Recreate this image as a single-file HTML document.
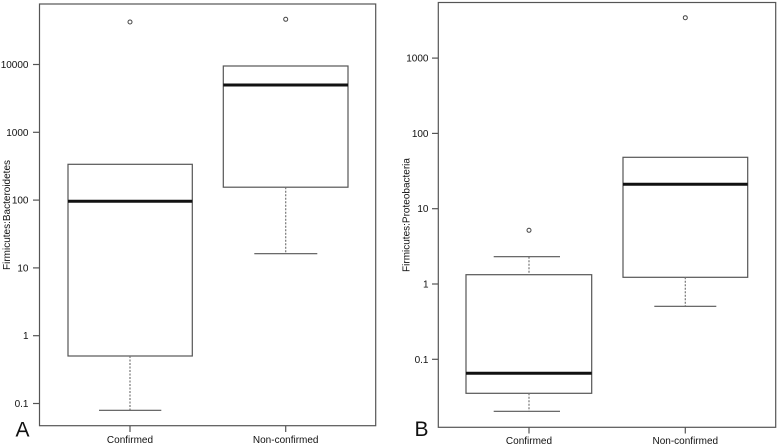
<!DOCTYPE html>
<html>
<head>
<meta charset="utf-8">
<style>
html,body{margin:0;padding:0;background:#fff;}
svg{display:block;}
text{font-family:"Liberation Sans",Arial,sans-serif;fill:#111;}
</style>
</head>
<body>
<svg width="778" height="447" viewBox="0 0 778 447" xmlns="http://www.w3.org/2000/svg">
<rect width="778" height="447" fill="#fff"/>

<!-- ===== Panel A ===== -->
<g fill="none" stroke="#555" stroke-width="1.2">
  <rect x="39.5" y="4" width="336.2" height="421.7"/>
  <!-- y ticks -->
  <line x1="33" y1="64.5" x2="39.5" y2="64.5"/>
  <line x1="33" y1="132.3" x2="39.5" y2="132.3"/>
  <line x1="33" y1="200.1" x2="39.5" y2="200.1"/>
  <line x1="33" y1="267.9" x2="39.5" y2="267.9"/>
  <line x1="33" y1="335.7" x2="39.5" y2="335.7"/>
  <line x1="33" y1="403.5" x2="39.5" y2="403.5"/>
  <!-- x ticks -->
  <line x1="130" y1="425.7" x2="130" y2="432"/>
  <line x1="285.7" y1="425.7" x2="285.7" y2="432"/>
  <!-- Confirmed box -->
  <rect x="68" y="164.3" width="124.3" height="191.7"/>
  <line x1="130" y1="356" x2="130" y2="410.3" stroke="#777" stroke-dasharray="2,1.5"/>
  <line x1="99" y1="410.3" x2="161.3" y2="410.3"/>
  <circle cx="130" cy="22" r="2" stroke="#444" stroke-width="1"/>
  <!-- Non-confirmed box -->
  <rect x="223.3" y="66" width="124.7" height="121.2"/>
  <line x1="285.7" y1="187.2" x2="285.7" y2="253.7" stroke="#777" stroke-dasharray="2,1.5"/>
  <line x1="254.3" y1="253.7" x2="317.3" y2="253.7"/>
  <circle cx="285.7" cy="19.3" r="2" stroke="#444" stroke-width="1"/>
</g>
<g stroke="#111" stroke-width="3">
  <line x1="68" y1="201.3" x2="192.3" y2="201.3"/>
  <line x1="223.3" y1="85" x2="348" y2="85"/>
</g>
<g font-size="10" text-anchor="end">
  <text x="28.5" y="68">10000</text>
  <text x="28.5" y="135.8">1000</text>
  <text x="28.5" y="203.6">100</text>
  <text x="28.5" y="271.4">10</text>
  <text x="28.5" y="339.2">1</text>
  <text x="28.5" y="407">0.1</text>
</g>
<g font-size="10" text-anchor="middle">
  <text x="130" y="443">Confirmed</text>
  <text x="285.7" y="443">Non-confirmed</text>
</g>
<text font-size="10" text-anchor="middle" transform="translate(10,215) rotate(-90)">Firmicutes:Bacteroidetes</text>
<text x="15.5" y="436.5" font-size="21">A</text>

<!-- ===== Panel B ===== -->
<g fill="none" stroke="#555" stroke-width="1.2">
  <rect x="438.3" y="2.5" width="337.4" height="424.8"/>
  <!-- y ticks -->
  <line x1="432" y1="58.1" x2="438.3" y2="58.1"/>
  <line x1="432" y1="133.4" x2="438.3" y2="133.4"/>
  <line x1="432" y1="208.7" x2="438.3" y2="208.7"/>
  <line x1="432" y1="284" x2="438.3" y2="284"/>
  <line x1="432" y1="359.3" x2="438.3" y2="359.3"/>
  <!-- x ticks -->
  <line x1="529" y1="427.3" x2="529" y2="433.5"/>
  <line x1="685.3" y1="427.3" x2="685.3" y2="433.5"/>
  <!-- Confirmed box -->
  <rect x="466" y="274.7" width="125.7" height="118.6"/>
  <line x1="529" y1="256.7" x2="529" y2="274.7" stroke="#777" stroke-dasharray="2,1.5"/>
  <line x1="529" y1="393.3" x2="529" y2="411.3" stroke="#777" stroke-dasharray="2,1.5"/>
  <line x1="493.7" y1="256.7" x2="560" y2="256.7"/>
  <line x1="493.7" y1="411.3" x2="560" y2="411.3"/>
  <circle cx="529" cy="230.3" r="2" stroke="#444" stroke-width="1"/>
  <!-- Non-confirmed box -->
  <rect x="623" y="157.3" width="124.7" height="120"/>
  <line x1="685.3" y1="277.3" x2="685.3" y2="306.3" stroke="#777" stroke-dasharray="2,1.5"/>
  <line x1="654.3" y1="306.3" x2="716.3" y2="306.3"/>
  <circle cx="685.3" cy="17.7" r="2" stroke="#444" stroke-width="1"/>
</g>
<g stroke="#111" stroke-width="3">
  <line x1="466" y1="373.3" x2="591.7" y2="373.3"/>
  <line x1="623" y1="184.3" x2="747.7" y2="184.3"/>
</g>
<g font-size="10" text-anchor="end">
  <text x="428.5" y="61.6">1000</text>
  <text x="428.5" y="136.9">100</text>
  <text x="428.5" y="212.2">10</text>
  <text x="428.5" y="287.5">1</text>
  <text x="428.5" y="362.8">0.1</text>
</g>
<g font-size="10" text-anchor="middle">
  <text x="529" y="444">Confirmed</text>
  <text x="685.3" y="444">Non-confirmed</text>
</g>
<text font-size="10" text-anchor="middle" transform="translate(409.5,215) rotate(-90)">Firmicutes:Proteobacteria</text>
<text x="414.5" y="436" font-size="21">B</text>
</svg>
</body>
</html>
